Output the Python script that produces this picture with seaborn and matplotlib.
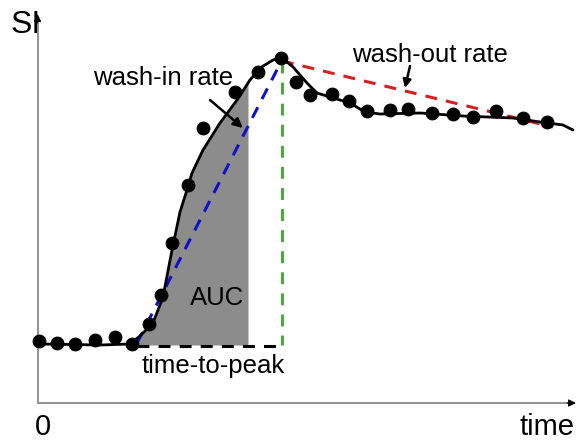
import numpy as np
import pandas as pd
import seaborn as sns
import matplotlib.pyplot as plt

# Messpunkte (Zeit, Signalintensität) – schematische Kurve
t_points = [2, 20, 38, 58, 78, 95, 112, 124, 135, 151, 166, 198, 221, 244,
            259, 273, 295, 312, 330, 353, 371, 395, 416, 436, 459, 486, 510]
si_points = [62, 60, 59, 63, 66, 59, 79, 108, 160, 218, 275, 311, 331, 345,
             321, 308, 309, 302, 292, 293, 294, 290, 289, 286, 292, 285, 281]

# Angepasste Kurve
t_fit = [3, 63, 93, 103, 116, 126, 135, 143, 150, 155, 166, 183, 200, 213,
         223, 236, 245, 256, 270, 280, 293, 313, 328, 343, 383, 426, 476,
         503, 526, 536]
si_fit = [59, 58, 59, 67, 80, 106, 153, 191, 213, 230, 253, 280, 303, 323,
          335, 343, 345, 336, 320, 310, 306, 300, 291, 289, 290, 287, 285,
          281, 278, 273]

# Kennwerte
t_onset = 100
si_base = 58
t_auc_end = 211
t_washout_end = 516
si_washout_end = 276

sns.set_style("white")
plt.rcParams["font.family"] = ["Liberation Sans", "DejaVu Sans"]
plt.rcParams["text.color"] = "black"

fig = plt.figure(figsize=(5.77, 4.41), dpi=100)
ax = fig.add_axes([0, 0, 1, 1])

df_fit = pd.DataFrame({"time": t_fit, "SI": si_fit})
df_pts = pd.DataFrame({"time": t_points, "SI": si_points})

# AUC-Fläche
t_dense = np.linspace(t_onset, t_auc_end, 200)
si_dense = np.interp(t_dense, t_fit, si_fit)
ax.fill_between(t_dense, si_base, si_dense, color="#8c8c8c", lw=0, zorder=1)

# Peak
i_peak = int(np.argmax(si_fit))
t_peak, si_peak = t_fit[i_peak], si_fit[i_peak]

dash = (0, (3.9, 3.0))
ax.plot([t_onset, t_peak], [si_base + 2, si_peak - 2], color="#1010c8", lw=2.2, ls=dash, zorder=3)
ax.plot([t_peak, t_peak], [si_peak - 3, si_base], color="#4aaa3c", lw=2.2, ls=dash, zorder=3)
ax.plot([t_onset, t_peak], [si_base - 1, si_base - 1], color="black", lw=2.2, ls=dash, zorder=3)
ax.plot([t_peak, t_washout_end], [si_peak - 3, si_washout_end], color="#d42020", lw=2.2, ls=dash, zorder=3)

sns.lineplot(data=df_fit, x="time", y="SI", color="black", lw=2, ax=ax, zorder=4)
sns.scatterplot(data=df_pts, x="time", y="SI", color="black", s=85, edgecolor="black", ax=ax, zorder=5)
ax.axis("off")
ax.set_xlim(-37, 540)
ax.set_ylim(-38, 403)

# Achsen: graue Linie, schwarze Pfeilspitze
ax.plot([0.5, 535], [0, 0], color="#8a8a8a", lw=1.3, clip_on=False, zorder=2)
ax.plot([0.5, 0.5], [0, 382], color="#8a8a8a", lw=1.3, clip_on=False, zorder=2)
ax.annotate("", xy=(539, 0), xytext=(530, 0),
            arrowprops=dict(arrowstyle="-|>", color="black", lw=0.8, mutation_scale=11,
                            shrinkA=0, shrinkB=0))
ax.annotate("", xy=(0.5, 389), xytext=(0.5, 380),
            arrowprops=dict(arrowstyle="-|>", color="black", lw=0.8, mutation_scale=11,
                            shrinkA=0, shrinkB=0))

# Pfeile zu den Beschriftungen
ax.annotate("", xy=(206, 275), xytext=(173, 303),
            arrowprops=dict(arrowstyle="-|>", color="black", lw=1.8, mutation_scale=14,
                            shrinkA=0, shrinkB=0))
ax.annotate("", xy=(368, 315), xytext=(373, 337),
            arrowprops=dict(arrowstyle="-|>", color="black", lw=1.8, mutation_scale=12,
                            shrinkA=0, shrinkB=0))

fs = 18.5
ax.text(126, 325, "wash-in rate", fontsize=fs, ha="center", va="center")
ax.text(393, 348, "wash-out rate", fontsize=fs, ha="center", va="center")
ax.text(180, 105, "AUC", fontsize=fs, ha="center", va="center")
ax.text(176, 37, "time-to-peak", fontsize=fs, ha="center", va="center")
ax.text(-26, 378, "SI", fontsize=23, ha="left", va="center", zorder=1)
ax.text(5.5, -24, "0", fontsize=21, ha="center", va="center")
ax.text(510, -24, "time", fontsize=21, ha="center", va="center")

plt.savefig("out.png", dpi=100)
